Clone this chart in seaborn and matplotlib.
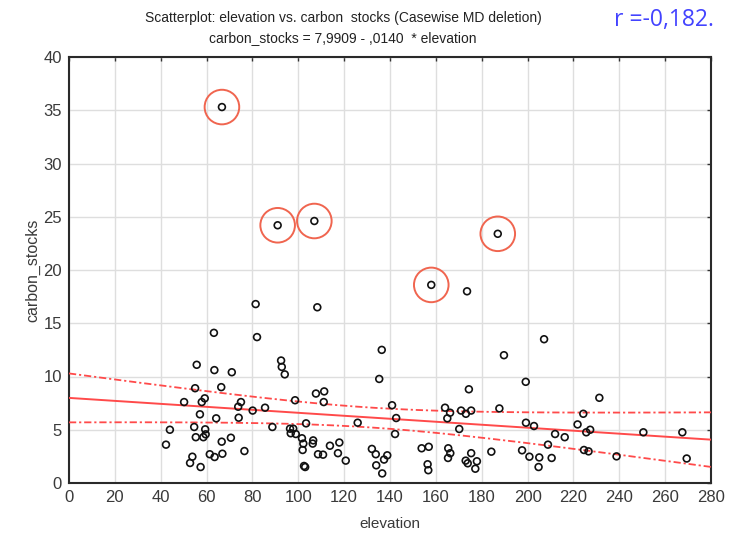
import numpy as np
import pandas as pd
import matplotlib
matplotlib.use("Agg")
import matplotlib.pyplot as plt
import seaborn as sns

elevation = [
    66.7, 91.0, 107.0, 158.0, 187.0, 173.6, 81.4, 108.3, 63.2, 82.0, 136.4, 189.7, 207.2,
    55.7, 63.4, 71.0, 92.5, 92.8, 94.1,
    55.0, 66.4, 50.2, 57.9, 59.2, 75.0, 73.8, 98.6, 57.1, 80.1, 85.5, 64.2, 74.0, 44.0,
    54.6, 59.4, 59.6, 58.6, 55.3, 88.7, 96.4, 97.8, 96.7, 98.9, 42.3, 66.6, 70.6, 53.8,
    52.8, 61.4, 63.5, 66.9, 76.5, 57.4,
    135.3, 107.7, 111.3, 111.1, 140.9, 142.7, 103.4, 125.9, 142.2, 101.6, 102.2, 101.9,
    106.5, 106.3, 113.8, 117.9, 108.6, 110.8, 117.3, 120.7, 102.5, 103.0, 132.1, 133.8,
    138.8, 137.4, 134.0, 136.6, 153.8, 156.9, 156.4, 156.7, 164.0, 166.2, 165.0, 174.4,
    171.0, 173.1, 175.4, 187.7, 170.2, 165.4, 166.3, 165.3, 175.4, 173.0, 173.9, 177.9,
    177.2, 184.2, 197.6, 199.2, 199.3, 200.8,
    231.3, 224.3, 202.8, 221.8, 225.6, 227.3, 212.0, 216.2, 208.9, 250.5, 267.5,
    205.1, 210.5, 204.8, 224.6, 226.6, 238.8, 269.4,
]
carbon_stocks = [
    35.3, 24.2, 24.6, 18.6, 23.4, 18.0, 16.8, 16.5, 14.1, 13.7, 12.5, 12.0, 13.5,
    11.1, 10.6, 10.4, 11.5, 10.9, 10.2,
    8.9, 9.0, 7.6, 7.6, 7.95, 7.6, 7.16, 7.77, 6.45, 6.8, 7.07, 6.07, 6.13, 5.0,
    5.26, 5.04, 4.57, 4.3, 4.3, 5.26, 5.1, 5.1, 4.67, 4.6, 3.6, 3.88, 4.25, 2.47,
    1.88, 2.7, 2.44, 2.75, 3.0, 1.5,
    9.77, 8.4, 8.6, 7.6, 7.3, 6.1, 5.6, 5.66, 4.6, 4.2, 3.7, 3.1,
    4.0, 3.7, 3.5, 3.8, 2.7, 2.66, 2.8, 2.1, 1.6, 1.5, 3.2, 2.7,
    2.6, 2.2, 1.66, 0.9, 3.26, 3.4, 1.76, 1.2, 7.07, 6.6, 6.07, 8.8,
    6.8, 6.5, 6.8, 7.0, 5.07, 3.26, 2.8, 2.35, 2.8, 2.1, 1.85, 2.04,
    1.34, 2.94, 3.07, 9.5, 5.66, 2.47,
    8.0, 6.5, 5.35, 5.5, 4.76, 5.0, 4.6, 4.3, 3.6, 4.76, 4.76,
    2.4, 2.35, 1.5, 3.1, 2.97, 2.5, 2.3,
]
# circled outliers (first five cases)
circled = [True] * 5 + [False] * (len(elevation) - 5)

INTERCEPT = 7.9909
SLOPE = -0.0140
x_ticks = list(range(0, 281, 20))
y_ticks = list(range(0, 41, 5))
title1 = "Scatterplot: elevation vs. carbon  stocks (Casewise MD deletion)"
title2 = "carbon_stocks = 7,9909 - ,0140  * elevation"
r_text = "r =-0,182."

df = pd.DataFrame({"elevation": elevation, "carbon_stocks": carbon_stocks, "circled": circled})

sns.set_theme(style="white")
plt.rcParams["font.family"] = ["Liberation Sans", "DejaVu Sans"]

fig = plt.figure(figsize=(7.29, 5.33), dpi=100)
ax = fig.add_axes([69 / 729, 1 - 483 / 533, (711 - 69) / 729, (483 - 57) / 533])

# regression line and 95% confidence band
xs = np.linspace(0, 280, 200)
x = df["elevation"].to_numpy()
y = df["carbon_stocks"].to_numpy()
n = len(x)
yhat = INTERCEPT + SLOPE * x
s = np.sqrt(np.sum((y - yhat) ** 2) / (n - 2))
sxx = np.sum((x - x.mean()) ** 2)
t = 1.98
half = t * s * np.sqrt(1 / n + (xs - x.mean()) ** 2 / sxx)
line = INTERCEPT + SLOPE * xs
red = "#ff4a4a"
dash = (0, (4, 1.6, 1.2, 1.6))
sns.lineplot(x=xs, y=line, ax=ax, color=red, lw=1.4, zorder=3)
ax.plot(xs, line + half, color=red, lw=1.3, ls=dash, zorder=3)
ax.plot(xs, line - half, color=red, lw=1.3, ls=dash, zorder=3)

sns.scatterplot(data=df, x="elevation", y="carbon_stocks", ax=ax, marker="o",
                facecolor="none", edgecolor="#111111", linewidth=1.2, s=24, zorder=4)
sns.scatterplot(data=df[df["circled"]], x="elevation", y="carbon_stocks", ax=ax,
                marker="o", facecolor="none", edgecolor="#f0654f", linewidth=1.4,
                s=620, zorder=5)

ax.set_xlim(0, 280)
ax.set_ylim(0, 40)
ax.set_xticks(x_ticks)
ax.set_yticks(y_ticks)
ax.grid(True, color="#dedede", lw=1.0)
ax.set_axisbelow(True)
ax.tick_params(direction="in", length=3, width=1, colors="#333333",
               labelsize=12, top=True, right=True, labelcolor="#3a3a3a", pad=5)
for side in ["left", "bottom", "right", "top"]:
    ax.spines[side].set_color("#2a2a2a")
    ax.spines[side].set_linewidth(1.5)
ax.set_xlabel("elevation", fontsize=11, color="#3a3a3a", labelpad=9)
ax.set_ylabel("carbon_stocks", fontsize=11.5, color="#3a3a3a", labelpad=2)

fig.text(343 / 729, 1 - 18 / 533, title1, ha="center", va="center", fontsize=10, color="#222222")
fig.text(343 / 729, 1 - 38 / 533, title2, ha="center", va="center", fontsize=10, color="#222222")
fig.text(664 / 729, 1 - 20 / 533, r_text, ha="center", va="center", fontsize=16.5,
         color="#4343ff", family=["Open Sans", "DejaVu Sans"])

fig.savefig("out.png", dpi=100)
